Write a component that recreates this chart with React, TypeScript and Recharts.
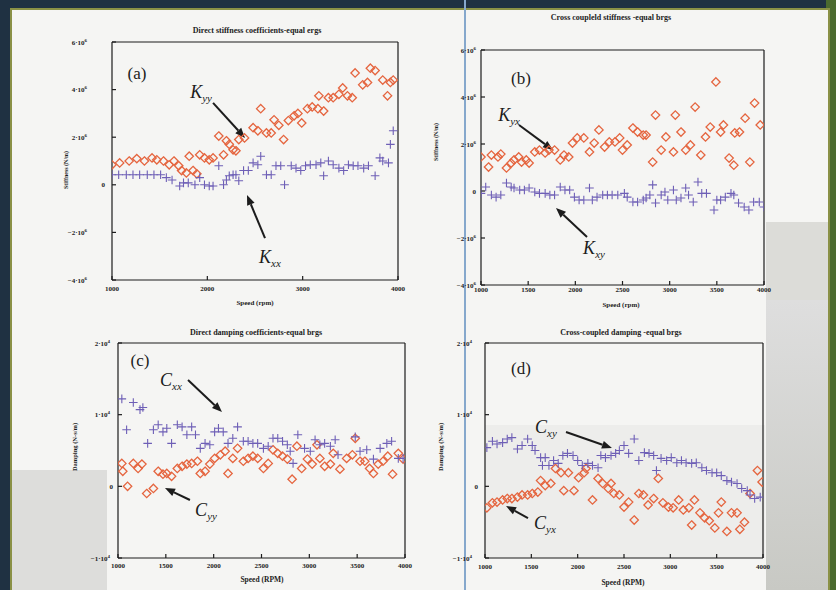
import React from 'react'
import { ScatterChart, Scatter, XAxis, YAxis, ReferenceLine, ReferenceDot } from 'recharts'

const SERIF = '"Liberation Serif", "DejaVu Serif", serif'
const RED = '#e5653f'
const PURPLE = '#6e5fb6'
const INK = '#1c1c1c'

// speed ticks (rpm)
const ticks1000 = [1000, 2000, 3000, 4000]
const ticks500 = [1000, 1500, 2000, 2500, 3000, 3500, 4000]
// stiffness ticks (N/m) and damping ticks (N-s/m)
const stiffTicks = [-4e6, -2e6, 0, 2e6, 4e6, 6e6]
const dampTicks = [-1e4, 0, 1e4, 2e4]

// (a) direct stiffness, [speed rpm, N/m]
const kyy: [number, number][] = [
  [1000, 0.84e6], [1080, 0.92e6], [1180, 1.0e6], [1260, 1.1e6], [1340, 1.0e6], [1420, 1.13e6], [1470, 1.05e6],
  [1540, 1.0e6], [1600, 0.84e6], [1650, 1.0e6], [1700, 0.8e6], [1730, 0.6e6], [1780, 0.5e6], [1810, 1.2e6],
  [1850, 0.6e6], [1890, 0.46e6], [1920, 1.26e6], [1970, 1.13e6], [2020, 1.05e6], [2060, 1.13e6], [2120, 2.05e6],
  [2170, 1.26e6], [2200, 1.85e6], [2230, 1.7e6], [2270, 1.47e6], [2300, 1.43e6], [2330, 1.9e6], [2390, 1.97e6],
  [2480, 2.4e6], [2530, 2.27e6], [2560, 3.2e6], [2620, 2.18e6], [2670, 2.18e6], [2700, 2.73e6], [2750, 2.5e6],
  [2800, 1.9e6], [2850, 2.7e6], [2910, 2.9e6], [2950, 3.0e6], [2990, 2.6e6], [3050, 3.2e6], [3100, 3.27e6],
  [3160, 3.2e6], [3170, 3.74e6], [3220, 3.1e6], [3270, 3.66e6], [3320, 3.66e6], [3380, 3.8e6], [3420, 4.07e6],
  [3470, 3.74e6], [3520, 3.66e6], [3550, 4.7e6], [3630, 4.2e6], [3680, 4.3e6], [3710, 4.9e6], [3760, 4.8e6],
  [3840, 4.4e6], [3890, 3.74e6], [3920, 4.3e6], [3950, 4.4e6],
]
const kxx: [number, number][] = [
  [1000, 0.42e6], [1070, 0.42e6], [1150, 0.42e6], [1220, 0.42e6], [1290, 0.42e6], [1370, 0.42e6], [1440, 0.42e6],
  [1510, 0.42e6], [1570, 0.3e6], [1630, 0.2e6], [1710, -0.05e6], [1750, 0.08e6], [1800, 0.08e6], [1870, 0],
  [1920, 0.3e6], [1970, 0], [2020, -0.05e6], [2060, -0.05e6], [2120, 0.8e6], [2170, 0], [2200, 0.2e6],
  [2230, 0.38e6], [2270, 0.42e6], [2300, 0.42e6], [2330, 0.17e6], [2380, 0.6e6], [2430, 0.6e6], [2480, 0.92e6],
  [2530, 0.84e6], [2560, 1.2e6], [2620, 0.42e6], [2670, 0.42e6], [2720, 0.8e6], [2770, 0.8e6], [2810, 0],
  [2880, 0.8e6], [2930, 0.7e6], [2980, 0.6e6], [3030, 0.8e6], [3080, 0.84e6], [3140, 0.84e6], [3190, 0.92e6],
  [3220, 0.38e6], [3270, 1.0e6], [3320, 0.84e6], [3380, 0.7e6], [3430, 0.6e6], [3480, 0.84e6], [3530, 0.8e6],
  [3580, 0.8e6], [3640, 0.7e6], [3690, 0.8e6], [3760, 0.38e6], [3810, 1.13e6], [3840, 1.0e6], [3900, 0.92e6],
  [3920, 1.7e6], [3950, 2.27e6],
]

// (b) cross coupled stiffness
const kyx: [number, number][] = [
  [1000, 1.45e6], [1080, 1.02e6], [1110, 1.53e6], [1180, 1.45e6], [1210, 1.57e6], [1270, 0.98e6], [1320, 1.19e6],
  [1350, 1.32e6], [1400, 1.45e6], [1430, 1.23e6], [1480, 1.32e6], [1510, 1.19e6], [1570, 1.66e6], [1620, 1.74e6],
  [1680, 1.62e6], [1720, 1.74e6], [1780, 1.74e6], [1840, 1.32e6], [1880, 1.53e6], [1930, 1.45e6], [1970, 2.04e6],
  [2020, 2.26e6], [2090, 2.26e6], [2150, 1.66e6], [2200, 2.04e6], [2250, 2.6e6], [2310, 1.87e6], [2360, 2.09e6],
  [2420, 2.09e6], [2470, 2.26e6], [2500, 1.74e6], [2550, 1.96e6], [2610, 2.68e6], [2660, 2.51e6], [2720, 2.38e6],
  [2750, 2.38e6], [2820, 1.23e6], [2850, 3.23e6], [2910, 1.74e6], [2960, 2.3e6], [3040, 1.66e6], [3060, 3.23e6],
  [3120, 2.51e6], [3170, 1.74e6], [3220, 1.96e6], [3270, 3.57e6], [3330, 1.53e6], [3380, 2.3e6], [3430, 2.72e6],
  [3490, 4.64e6], [3540, 2.51e6], [3570, 2.81e6], [3630, 1.4e6], [3680, 1.1e6], [3690, 2.47e6], [3740, 2.51e6],
  [3800, 3.1e6], [3850, 1.23e6], [3900, 3.74e6], [3960, 2.81e6],
]
const kxy: [number, number][] = [
  [1000, -0.1e6], [1050, 0.17e6], [1110, -0.17e6], [1160, -0.26e6], [1210, -0.17e6], [1270, 0.34e6], [1320, 0.17e6],
  [1350, 0.13e6], [1410, 0.04e6], [1460, 0.04e6], [1510, 0.13e6], [1570, -0.04e6], [1620, -0.1e6], [1680, -0.1e6],
  [1730, -0.17e6], [1780, -0.17e6], [1840, 0.17e6], [1890, 0.04e6], [1940, 0.04e6], [1990, -0.26e6], [2040, -0.38e6],
  [2090, -0.38e6], [2150, 0.13e6], [2180, -0.38e6], [2230, -0.26e6], [2290, -0.17e6], [2340, -0.17e6], [2390, -0.17e6],
  [2450, -0.17e6], [2520, -0.1e6], [2550, -0.26e6], [2610, -0.47e6], [2660, -0.47e6], [2720, -0.38e6], [2750, -0.3e6],
  [2790, -0.17e6], [2820, 0.26e6], [2850, -0.51e6], [2910, -0.17e6], [2950, -0.04e6], [2980, -0.38e6], [3040, 0.04e6],
  [3070, -0.38e6], [3120, -0.3e6], [3170, 0.13e6], [3200, -0.17e6], [3250, -0.47e6], [3300, 0.38e6], [3340, -0.1e6],
  [3390, -0.1e6], [3470, -0.81e6], [3500, -0.38e6], [3540, -0.38e6], [3590, -0.26e6], [3650, -0.1e6], [3680, -0.17e6],
  [3730, -0.51e6], [3790, -0.68e6], [3840, -0.81e6], [3890, -0.47e6], [3950, -0.47e6], [4000, -0.68e6],
]

// (c) direct damping, N-s/m
const cxx: [number, number][] = [
  [1040, 12200], [1090, 7900], [1160, 11700], [1230, 10700], [1260, 11000], [1310, 6000], [1370, 7900],
  [1420, 8600], [1470, 7600], [1510, 8100], [1560, 6000], [1620, 8600], [1670, 8300], [1720, 7200],
  [1770, 8300], [1810, 7200], [1860, 5300], [1910, 6000], [1960, 5800], [2010, 7600], [2050, 8100],
  [2100, 7600], [2150, 6000], [2200, 6700], [2250, 8300], [2310, 6300], [2360, 6300], [2410, 6000],
  [2460, 6000], [2520, 5300], [2570, 5600], [2620, 6700], [2670, 6700], [2720, 6300], [2770, 5800],
  [2800, 4900], [2830, 3200], [2880, 7200], [2950, 5300], [3010, 4900], [3060, 6500], [3110, 5800],
  [3160, 6000], [3220, 5600], [3270, 6500], [3300, 4400], [3480, 6900], [3530, 4900], [3600, 5100],
  [3670, 3800], [3740, 5300], [3810, 6000], [3860, 6300], [3930, 3900], [3980, 3900],
]
const cyy: [number, number][] = [
  [1040, 3200], [1050, 2100], [1100, 0], [1160, 3200], [1210, 2500], [1250, 3100], [1300, -1000],
  [1370, -300], [1420, 2100], [1470, 1700], [1510, 1800], [1560, 1400], [1620, 2500], [1670, 2800],
  [1720, 3100], [1770, 3200], [1830, 3500], [1860, 1800], [1910, 2100], [1960, 3100], [2010, 3900],
  [2070, 4400], [2120, 4900], [2150, 1800], [2200, 3900], [2250, 5300], [2310, 3500], [2360, 3900],
  [2410, 4200], [2460, 3900], [2520, 2500], [2570, 3200], [2620, 5100], [2670, 4600], [2720, 4200],
  [2770, 3800], [2820, 1000], [2870, 5600], [2920, 2500], [2980, 3800], [3030, 3100], [3080, 5800],
  [3110, 3900], [3160, 2800], [3220, 3100], [3250, 4600], [3320, 2400], [3390, 3900], [3450, 4400],
  [3480, 6700], [3530, 3500], [3580, 3500], [3630, 2500], [3670, 1800], [3720, 3100], [3770, 3500],
  [3820, 4200], [3870, 1700], [3930, 4600], [3980, 3800],
]

// (d) cross coupled damping
const cxy: [number, number][] = [
  [1020, 5400], [1080, 6300], [1130, 5900], [1190, 6100], [1240, 6600], [1290, 6800], [1350, 5200],
  [1400, 5700], [1460, 6600], [1510, 5700], [1540, 5000], [1600, 4000], [1620, 2900], [1650, 4000],
  [1690, 2900], [1740, 3600], [1790, 3200], [1840, 4300], [1890, 4600], [1950, 4300], [2000, 3600],
  [2050, 2900], [2110, 3200], [2160, 2900], [2220, 2600], [2250, 4300], [2300, 4000], [2360, 4300],
  [2410, 4600], [2450, 5000], [2500, 5700], [2550, 4600], [2610, 6600], [2660, 3600], [2720, 4700],
  [2770, 4600], [2820, 4300], [2850, 2200], [2900, 3900], [2960, 3600], [3010, 4000], [3070, 3300],
  [3120, 3600], [3170, 3300], [3230, 3200], [3280, 3300], [3340, 2600], [3390, 2200], [3450, 1900],
  [3500, 1900], [3550, 1500], [3610, 800], [3660, 600], [3720, 400], [3770, -300], [3830, -600],
  [3860, -1200], [3910, -1700], [3970, -1500],
]
const cyx: [number, number][] = [
  [1020, -3000], [1080, -2300], [1130, -2200], [1190, -1900], [1240, -1700], [1290, -1700], [1350, -1500],
  [1400, -1200], [1460, -1200], [1510, -1000], [1570, -800], [1600, 800], [1650, 100], [1710, 400],
  [1760, 2500], [1820, 1900], [1850, -600], [1900, 1900], [1960, -600], [2010, 1200], [2070, 1900],
  [2090, 2500], [2160, -1900], [2220, 1100], [2270, 400], [2330, -300], [2360, 400], [2390, -1000],
  [2450, -1200], [2500, -2900], [2550, -2200], [2610, -4700], [2660, -1000], [2710, -1200], [2760, -2600],
  [2820, -1700], [2870, 1100], [2920, -2300], [2980, -2900], [3030, -3000], [3090, -1900], [3140, -3300],
  [3200, -3000], [3230, -5400], [3260, -1900], [3320, -3700], [3370, -4400], [3420, -4800], [3480, -5800],
  [3520, -3700], [3550, -2200], [3610, -6300], [3660, -3700], [3720, -3700], [3750, -6000], [3800, -5000],
  [3860, -1000], [3940, 2200], [3990, 600],
]

const toPoints = (pairs: [number, number][]) => pairs.map(([speed, value]) => ({ speed, value }))

const Diamond = (props: any) => {
  const { cx, cy } = props
  if (cx == null || cy == null) return null
  const r = 4.2
  return (
    <path d={`M${cx},${cy - r}L${cx + r},${cy}L${cx},${cy + r}L${cx - r},${cy}Z`} fill="none" stroke={RED} strokeWidth={1.3} />
  )
}

const Cross = (props: any) => {
  const { cx, cy } = props
  if (cx == null || cy == null) return null
  const r = 4.3
  return (
    <path d={`M${cx - r},${cy}H${cx + r}M${cx},${cy - r}V${cy + r}`} stroke={PURPLE} strokeWidth={1.1} fill="none" />
  )
}

const Arrow = (p: any) => {
  const { x1, y1, x2, y2 } = p
  const a = Math.atan2(y2 - y1, x2 - x1)
  const L = 10
  const W = 4
  const bx = x2 - L * Math.cos(a)
  const by = y2 - L * Math.sin(a)
  const pts = `${x2},${y2} ${bx - W * Math.sin(a)},${by + W * Math.cos(a)} ${bx + W * Math.sin(a)},${by - W * Math.cos(a)}`
  return (
    <g>
      <line x1={x1} y1={y1} x2={bx} y2={by} stroke={INK} strokeWidth={2} />
      <polygon points={pts} fill={INK} />
    </g>
  )
}

const XTick = (p: any) => (
  <text x={p.x} y={p.y} dy="0.72em" textAnchor="middle" fontFamily={SERIF} fontSize={7} fontWeight="bold" fill={INK}>
    {p.payload.value}
  </text>
)

const makeYTick = (exp: number, zeroShift: number) => (p: any) => {
  const v = p.payload.value
  if (v === 0) {
    return (
      <text x={p.x + zeroShift} y={p.y} dy={2.5} textAnchor="end" fontFamily={SERIF} fontSize={7} fontWeight="bold" fill={INK}>
        0
      </text>
    )
  }
  const m = v / 10 ** exp
  return (
    <text x={p.x} y={p.y} dy={2.5} textAnchor="end" fontFamily={SERIF} fontSize={7} fontWeight="bold" fill={INK}>
      {`${m < 0 ? '\u2212' : ''}${Math.abs(m)}\u00b710`}
      <tspan dy={-3} fontSize={5}>{exp}</tspan>
    </text>
  )
}

interface Note { speed: number; value: number; main: string; sub: string }
interface Pointer { from: [number, number]; to: [number, number] }

interface PanelProps {
  left: number
  top: number
  width: number
  height: number
  plot: [number, number, number, number] // left, top, right, bottom
  xTicks: number[]
  yTicks: number[]
  exp: number
  yGap: number
  zeroShift: number
  xGap: number
  diamonds: [number, number][]
  crosses: [number, number][]
  notes: Note[]
  pointers: Pointer[]
  letter: Note
}

const Panel: React.FC<PanelProps> = ({
  left, top, width, height, plot, xTicks, yTicks, exp, yGap, zeroShift, xGap, diamonds, crosses, notes, pointers, letter
}) => {
  const [pl, pt, pr, pb] = plot
  const yDomain: [number, number] = [yTicks[0], yTicks[yTicks.length - 1]]
  const line = { stroke: INK, strokeWidth: 1.2 }
  return (
    <div style={{ position: 'absolute', left, top }}>
      <ScatterChart width={width} height={height} margin={{ top: pt - top, right: left + width - pr, bottom: 0, left: 0 }}>
        <XAxis
          dataKey="speed" type="number" domain={[1000, 4000]} ticks={xTicks} interval={0} allowDataOverflow
          height={top + height - pb} tickSize={-4} tickMargin={4 + xGap} tick={XTick} axisLine={line} tickLine={line}
        />
        <YAxis
          dataKey="value" type="number" domain={yDomain} ticks={yTicks} interval={0} allowDataOverflow
          width={pl - left} tickSize={-4} tickMargin={4 + yGap} tick={makeYTick(exp, zeroShift)} axisLine={line} tickLine={line}
        />
        <XAxis xAxisId="top" orientation="top" type="number" domain={[1000, 4000]} ticks={xTicks} interval={0}
          mirror tick={false} tickSize={4} axisLine={line} tickLine={line} />
        <YAxis yAxisId="right" orientation="right" type="number" domain={yDomain} ticks={yTicks} interval={0}
          mirror tick={false} tickSize={4} axisLine={line} tickLine={line} />
        <Scatter data={toPoints(diamonds)} shape={Diamond} isAnimationActive={false} />
        <Scatter data={toPoints(crosses)} shape={Cross} isAnimationActive={false} />
        {pointers.map((a, i) => (
          <ReferenceLine key={`a${i}`} segment={[{ x: a.from[0], y: a.from[1] }, { x: a.to[0], y: a.to[1] }]} shape={Arrow} />
        ))}
        {notes.map((n, i) => (
          <ReferenceDot key={`n${i}`} x={n.speed} y={n.value} shape={(p: any) => (
            <text x={p.cx} y={p.cy} dy={6} textAnchor="middle" fontFamily={SERIF} fontStyle="italic" fontSize={18} fill={INK}>
              {n.main}
              <tspan fontSize={11} dy={4}>{n.sub}</tspan>
            </text>
          )} />
        ))}
        <ReferenceDot x={letter.speed} y={letter.value} shape={(p: any) => (
          <text x={p.cx} y={p.cy} dy={6} textAnchor="middle" fontFamily={SERIF} fontSize={17} fill={INK}>
            {letter.main}
          </text>
        )} />
      </ScatterChart>
    </div>
  )
}

const label = (x: number, y: number, text: string, size: number, rotate = false): React.ReactNode => (
  <div
    key={text + x + y}
    style={{
      position: 'absolute', left: x, top: y, transform: `translate(-50%, -50%)${rotate ? ' rotate(-90deg)' : ''}`,
      whiteSpace: 'nowrap', fontFamily: SERIF, fontSize: size, fontWeight: 'bold', color: INK, lineHeight: 1,
    }}
  >
    {text}
  </div>
)

export default function App() {
  return (
    <div style={{ position: 'absolute', left: 0, top: 0, width: 836, height: 590, overflow: 'hidden', background: '#1f3142' }}>
      <div style={{ position: 'absolute', left: 826, top: 0, width: 10, height: 590, background: '#4b6a2f' }} />
      <div style={{ position: 'absolute', left: 10, top: 8, width: 820, height: 600, background: '#f5f5f3', border: '2px solid #8a9146', boxSizing: 'border-box' }} />
      {/* photo patches */}
      <div style={{ position: 'absolute', left: 766, top: 222, width: 62, height: 78, background: '#dcdcd8' }} />
      <div style={{ position: 'absolute', left: 766, top: 300, width: 62, height: 290, background: 'linear-gradient(180deg, #dedede 0%, #c8c9c4 100%)' }} />
      <div style={{ position: 'absolute', left: 12, top: 470, width: 95, height: 120, background: '#dddddb' }} />
      <div style={{ position: 'absolute', left: 485, top: 425, width: 280, height: 133, background: '#ededeb' }} />
      <div style={{ position: 'absolute', left: 464, top: 0, width: 1.5, height: 590, background: '#86a8cc' }} />

      <Panel
        left={55} top={30} width={355} height={270} plot={[112, 42, 398, 280]}
        xTicks={ticks1000} yTicks={stiffTicks} exp={6} yGap={25} zeroShift={18} xGap={6}
        diamonds={kyy} crosses={kxx}
        notes={[{ speed: 1934, value: 3.9e6, main: 'K', sub: 'yy' }, { speed: 2657, value: -3.03e6, main: 'K', sub: 'xx' }]}
        pointers={[{ from: [2060, 3.44e6], to: [2395, 1.97e6] }, { from: [2605, -2.24e6], to: [2416, -0.43e6] }]}
        letter={{ speed: 1262, value: 4.7e6, main: '(a)', sub: '' }}
      />
      <Panel
        left={425} top={40} width={350} height={265} plot={[481, 50, 764, 285]}
        xTicks={ticks500} yTicks={stiffTicks} exp={6} yGap={5} zeroShift={0} xGap={2}
        diamonds={kyx} crosses={kxy}
        notes={[{ speed: 1297, value: 3.23e6, main: 'K', sub: 'yx' }, { speed: 2198, value: -2.43e6, main: 'K', sub: 'xy' }]}
        pointers={[{ from: [1403, 2.81e6], to: [1763, 1.74e6] }, { from: [2124, -1.96e6], to: [1795, -0.72e6] }]}
        letter={{ speed: 1424, value: 4.81e6, main: '(b)', sub: '' }}
      />
      <Panel
        left={60} top={333} width={355} height={247} plot={[118, 343, 405, 558]}
        xTicks={ticks500} yTicks={dampTicks} exp={4} yGap={8} zeroShift={3} xGap={5}
        diamonds={cyy} crosses={cxx}
        notes={[{ speed: 1554, value: 14840, main: 'C', sub: 'xx' }, { speed: 1920, value: -3300, main: 'C', sub: 'yy' }]}
        pointers={[{ from: [1732, 14840], to: [2087, 10370] }, { from: [1752, -1910], to: [1491, -235] }]}
        letter={{ speed: 1230, value: 17620, main: '(c)', sub: '' }}
      />
      <Panel
        left={425} top={333} width={350} height={247} plot={[485, 343, 763, 558]}
        xTicks={ticks500} yTicks={dampTicks} exp={4} yGap={13} zeroShift={6} xGap={6}
        diamonds={cyx} crosses={cxy}
        notes={[{ speed: 1658, value: 8270, main: 'C', sub: 'xy' }, { speed: 1647, value: -5120, main: 'C', sub: 'yx' }]}
        pointers={[{ from: [1874, 7580], to: [2370, 5350] }, { from: [1464, -4420], to: [1227, -2750] }]}
        letter={{ speed: 1388, value: 16500, main: '(d)', sub: '' }}
      />

      {label(257, 31, 'Direct stiffness coefficients-equal ergs', 8)}
      {label(611, 18, 'Cross coupleld stiffness -equal brgs', 8)}
      {label(256, 333, 'Direct damping coefficients-equal brgs', 8)}
      {label(621, 333, 'Cross-coupled damping -equal brgs', 8)}
      {label(255, 303, 'Speed (rpm)', 7)}
      {label(621, 305, 'Speed (rpm)', 7)}
      {label(262, 580, 'Speed (RPM)', 7.5)}
      {label(623, 583, 'Speed (RPM)', 7.5)}
      {label(66, 170, 'Stiffness (N/m)', 6, true)}
      {label(436, 142, 'Stiffness (N/m)', 6, true)}
      {label(75, 447, 'Damping (N-s/m)', 6.5, true)}
      {label(441, 447, 'Damping (N-s/m)', 6.5, true)}
    </div>
  )
}
